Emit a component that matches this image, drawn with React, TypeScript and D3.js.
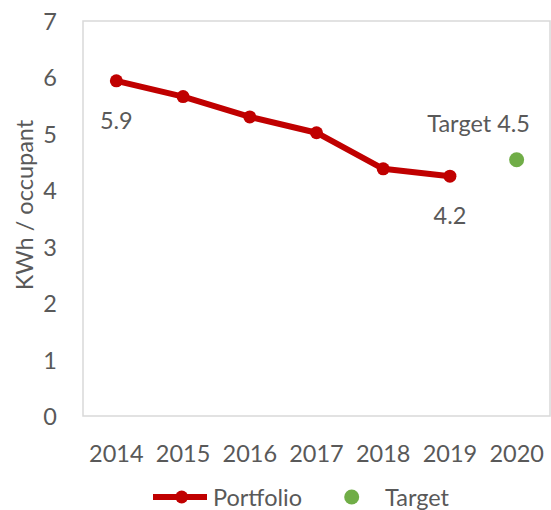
import React from "react";
import * as d3 from "d3";

const years = ["2014", "2015", "2016", "2017", "2018", "2019", "2020"];
const portfolioYears = ["2014", "2015", "2016", "2017", "2018", "2019"];
const portfolioValues = [5.94, 5.66, 5.3, 5.02, 4.38, 4.25];
const targetYear = "2020";
const targetValue = 4.54;
const yTicks = [0, 1, 2, 3, 4, 5, 6, 7];

const FONT = "Lato, 'Open Sans', sans-serif";
const TXT = "#595959";
const FS = 23.5;

export default function App() {
  const W = 551, H = 510;
  const left = 83, right = 550, top = 21, bottom = 416;
  const x = d3.scaleBand().domain(years).range([left, right]);
  const y = d3.scaleLinear().domain([0, 7]).range([bottom, top]);
  const cx = (yr: string) => (x(yr) as number) + x.bandwidth() / 2;
  const pts = portfolioYears.map((yr, i) => [cx(yr), y(portfolioValues[i])] as [number, number]);
  const line = d3.line()(pts) as string;
  const last = pts.length - 1;
  const f = (v: number) => d3.format(".1f")(Math.floor(v * 10) / 10);
  return (
    <svg width={W} height={H} style={{ position: "absolute", left: 0, top: 0 }}>
      <rect x={left} y={top} width={right - left} height={bottom - top} fill="none" stroke="#d9d9d9" strokeWidth={1.5} />
      {yTicks.map((t) => (
        <text key={t} x={57} y={y(t)} textAnchor="end" dominantBaseline="central" fontFamily={FONT} fontSize={FS} fill={TXT}>{t}</text>
      ))}
      {years.map((yr) => (
        <text key={yr} x={cx(yr)} y={453} textAnchor="middle" dominantBaseline="central" fontFamily={FONT} fontSize={FS} fill={TXT}>{yr}</text>
      ))}
      <text transform={`translate(24,205) rotate(-90)`} textAnchor="middle" dominantBaseline="central" fontFamily={FONT} fontSize={FS} fill={TXT}>KWh / occupant</text>
      <path d={line} fill="none" stroke="#C00000" strokeWidth={6} strokeLinejoin="round" />
      {pts.map((p, i) => (
        <circle key={i} cx={p[0]} cy={p[1]} r={6.5} fill="#C00000" />
      ))}
      <circle cx={cx(targetYear)} cy={y(targetValue)} r={7.5} fill="#70AD47" />
      <text x={pts[0][0]} y={pts[0][1] + 39} textAnchor="middle" dominantBaseline="central" fontFamily={FONT} fontSize={FS} fill={TXT}>{f(portfolioValues[0])}</text>
      <text x={pts[last][0]} y={pts[last][1] + 39} textAnchor="middle" dominantBaseline="central" fontFamily={FONT} fontSize={FS} fill={TXT}>{f(portfolioValues[last])}</text>
      <text x={530} y={y(targetValue) - 37} textAnchor="end" dominantBaseline="central" fontFamily={FONT} fontSize={FS} fill={TXT}>{`Target ${f(targetValue)}`}</text>
      <line x1={153} x2={207} y1={497} y2={497} stroke="#C00000" strokeWidth={6} />
      <circle cx={181.7} cy={497} r={6.5} fill="#C00000" />
      <text x={213} y={497} dominantBaseline="central" fontFamily={FONT} fontSize={FS} fill={TXT}>Portfolio</text>
      <circle cx={351.7} cy={497} r={7.5} fill="#70AD47" />
      <text x={385} y={497} dominantBaseline="central" fontFamily={FONT} fontSize={FS} fill={TXT}>Target</text>
    </svg>
  );
}
